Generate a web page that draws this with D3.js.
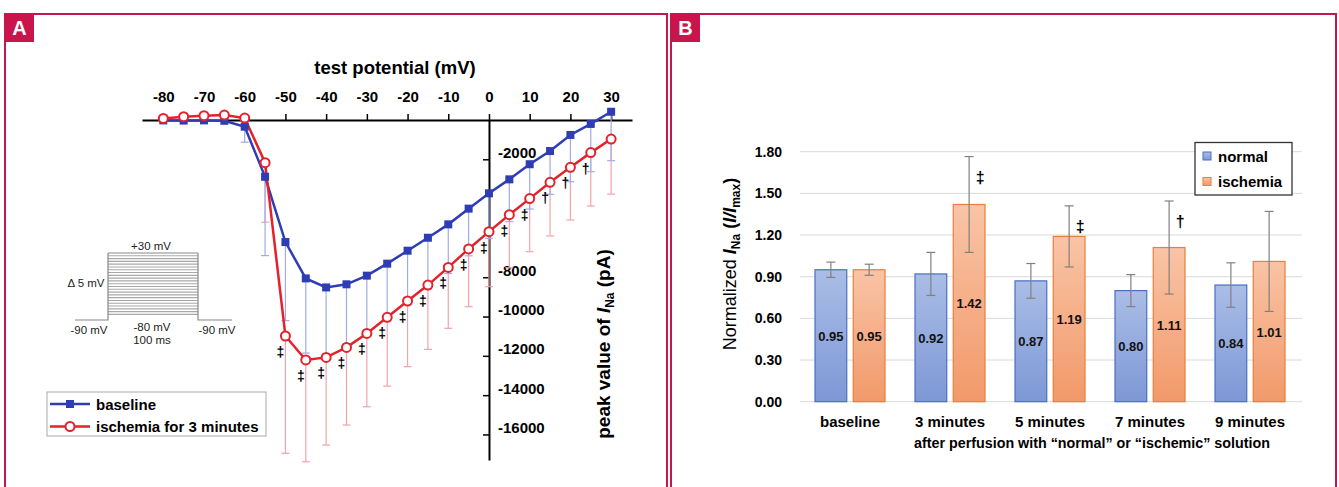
<!DOCTYPE html>
<html><head><meta charset="utf-8">
<script src="https://cdn.jsdelivr.net/npm/d3@7"></script>
<style>body{margin:0;background:#fff}svg{display:block;font-family:"Liberation Sans",Arial,sans-serif}</style>
</head><body><svg id="c" width="1339" height="487"></svg>
<script>
// ---------- Panel A data ----------
const potentials = [-80,-75,-70,-65,-60,-55,-50,-45,-40,-35,-30,-25,-20,-15,-10,-5,0,5,10,15,20,25,30];
const baselineI  = [-20,-30,-20,-40,-340,-2890,-6210,-8060,-8520,-8360,-7920,-7310,-6650,-5990,-5310,-4510,-3730,-3020,-2250,-1580,-760,-200,420];
const ischemiaI  = [80,170,220,250,100,-2170,-10990,-12210,-12080,-11570,-10860,-10040,-9210,-8400,-7500,-6560,-5680,-4820,-4000,-3170,-2410,-1660,-970];
const baselineSD = [0,0,0,0,790,4010,4000,3800,3500,3300,3100,2900,2700,2600,2500,2400,2300,2150,2280,2200,2380,2430,2490];
const ischemiaSD = [0,0,0,0,100,3030,5970,5180,4460,3950,3730,3500,3340,3270,3100,2940,2800,2700,2700,2730,2680,2720,2800];
const sigA       = ["","","","","","","‡","‡","‡","‡","‡","‡","‡","‡","‡","‡","‡","‡","‡","†","†","†",""];
const xTicksA = [-80,-70,-60,-50,-40,-30,-20,-10,0,10,20,30];
const yTicksA = [-2000,-8000,-10000,-12000,-14000,-16000];
const protocolLevels = [30,25,20,15,10,5,0,-5,-10,-15,-20,-25,-30,-35,-40,-45,-50,-55,-60,-65,-70,-75,-80];

// ---------- Panel B data ----------
const groups = ["baseline","3 minutes","5 minutes","7 minutes","9 minutes"];
const normalVals = [0.95,0.92,0.87,0.80,0.84];
const ischemiaVals = [0.95,1.42,1.19,1.11,1.01];
const normalErr = [0.055,0.155,0.125,0.115,0.16];
const ischemiaErr = [0.04,0.345,0.22,0.335,0.36];
const sigB = ["","‡","‡","†",""];
const yTicksB = [0,0.3,0.6,0.9,1.2,1.5,1.8];

const svg = d3.select("#c");
const crimson = "#c8164c";
const blue = "#2f3db5", red = "#e3222b";

// frames and panel labels
[[5,667,"A"],[671,1336,"B"]].forEach(([l,r,t])=>{
  svg.append("path").attr("d",`M${l},487V14H${r}V487`).attr("fill","none")
    .attr("stroke",crimson).attr("stroke-width",2);
  svg.append("rect").attr("x",l).attr("y",13).attr("width",29).attr("height",29).attr("fill",crimson);
  svg.append("text").attr("x",l+14.5).attr("y",35).attr("text-anchor","middle")
    .attr("fill","#fff").attr("font-weight","bold").attr("font-size",20).text(t);
});

// ---------- Panel A ----------
const gA = svg.append("g");
const xA = d3.scaleLinear().domain([-85.23,35.13]).range([142,632]);
const yA = d3.scaleLinear().domain([0,-17300]).range([120,460]);

// x axis (top)
const xAx = gA.append("g").attr("transform","translate(0,120)")
  .call(d3.axisTop(xA).tickValues(xTicksA).tickSize(6).tickSizeOuter(0).tickPadding(12).tickFormat(d=>String(d)));
xAx.select(".domain").attr("stroke","#000").attr("stroke-width",2);
xAx.selectAll(".tick line").attr("stroke","#000").attr("stroke-width",1.5);
xAx.selectAll(".tick text").attr("font-size",15).attr("font-weight","bold").attr("fill","#000")
  .attr("font-family","'Liberation Sans',Arial,sans-serif");

// y axis
const yAx = gA.append("g").attr("transform",`translate(${xA(0)},0)`)
  .call(d3.axisLeft(yA).tickValues(yTicksA).tickSize(6).tickSizeOuter(0).tickFormat(""));
yAx.select(".domain").attr("stroke","#000").attr("stroke-width",2);
yAx.selectAll(".tick line").attr("stroke","#000").attr("stroke-width",1.5);
gA.selectAll(".ylab").data(yTicksA).join("text")
  .attr("x",xA(0)+9).attr("y",d=>yA(d)-1.5).attr("font-size",15).attr("font-weight","bold").text(d=>String(d));

// titles
gA.append("text").attr("x",395).attr("y",74).attr("text-anchor","middle")
  .attr("font-size",18.5).attr("font-weight","bold").text("test potential (mV)");
const yt = gA.append("text").attr("transform","translate(610,344) rotate(-90)").attr("text-anchor","middle")
  .attr("font-size",19).attr("font-weight","bold");
yt.append("tspan").text("peak value of ");
yt.append("tspan").attr("font-style","italic").text("I");
yt.append("tspan").attr("font-size",12).attr("dy",4).text("Na");
yt.append("tspan").attr("dy",-4).text(" (pA)");

// error bars (downward)
function errBars(vals, sds, color){
  const d = potentials.map((p,i)=>({p,v:vals[i],s:sds[i]})).filter(o=>o.s>0);
  gA.append("g").selectAll("line.e").data(d).join("line")
    .attr("x1",o=>xA(o.p)).attr("x2",o=>xA(o.p)).attr("y1",o=>yA(o.v)).attr("y2",o=>yA(o.v-o.s))
    .attr("stroke",color).attr("stroke-width",1.2);
  gA.append("g").selectAll("line.c").data(d).join("line")
    .attr("x1",o=>xA(o.p)-4).attr("x2",o=>xA(o.p)+4).attr("y1",o=>yA(o.v-o.s)).attr("y2",o=>yA(o.v-o.s))
    .attr("stroke",color).attr("stroke-width",1.2);
}
errBars(ischemiaI, ischemiaSD, "#f2a3ab");
errBars(baselineI, baselineSD, "#a3aae6");

const line = d3.line().x(d=>xA(d[0])).y(d=>yA(d[1]));
gA.append("path").datum(potentials.map((p,i)=>[p,baselineI[i]])).attr("d",line)
  .attr("fill","none").attr("stroke",blue).attr("stroke-width",2.5);
gA.append("path").datum(potentials.map((p,i)=>[p,ischemiaI[i]])).attr("d",line)
  .attr("fill","none").attr("stroke",red).attr("stroke-width",2.5);
gA.append("g").selectAll("rect").data(potentials).join("rect")
  .attr("x",(p)=>xA(p)-4).attr("y",(p,i)=>yA(baselineI[i])-4).attr("width",8).attr("height",8).attr("fill",blue);
gA.append("g").selectAll("circle").data(potentials).join("circle")
  .attr("cx",p=>xA(p)).attr("cy",(p,i)=>yA(ischemiaI[i])).attr("r",4.5)
  .attr("fill","#fff").attr("stroke",red).attr("stroke-width",2);
gA.append("g").selectAll("text").data(potentials).join("text")
  .attr("x",p=>xA(p)-5).attr("y",(p,i)=>yA(ischemiaI[i])+21).attr("text-anchor","middle")
  .attr("font-size",14).attr("font-weight","bold").text((p,i)=>sigA[i]);

// inset protocol
const yP = d3.scaleLinear().domain([-90,30]).range([320,253]);
const ins = gA.append("g");
ins.selectAll("line.lv").data(protocolLevels).join("line")
  .attr("x1",108).attr("x2",198).attr("y1",d=>yP(d)).attr("y2",d=>yP(d))
  .attr("stroke",(d,i)=>i===0?"#888":"#a8a8a8").attr("stroke-width",1.1);
ins.append("path").attr("d",`M75,${yP(-90)}H108V${yP(30)}M198,${yP(30)}V${yP(-90)}H232`)
  .attr("fill","none").attr("stroke","#888").attr("stroke-width",1.2);
const insT = [["+30 mV",151,250],["Δ 5 mV",86,287],["-90 mV",89,334],["-80 mV",152,331],["100 ms",152,344],["-90 mV",217,334]];
ins.selectAll("text").data(insT).join("text").attr("x",d=>d[1]).attr("y",d=>d[2])
  .attr("text-anchor","middle").attr("font-size",11.5).attr("fill","#222").text(d=>d[0]);

// legend A
const lg = gA.append("g");
lg.append("rect").attr("x",47).attr("y",392).attr("width",219).attr("height",44)
  .attr("fill","#fff").attr("stroke","#aaa").attr("stroke-width",1);
[[404,"baseline",blue,"sq"],[426.5,"ischemia for 3 minutes",red,"ci"]].forEach(([y,t,c,m])=>{
  lg.append("line").attr("x1",50).attr("x2",90).attr("y1",y).attr("y2",y).attr("stroke",c).attr("stroke-width",2.5);
  if(m==="sq") lg.append("rect").attr("x",66).attr("y",y-4).attr("width",8).attr("height",8).attr("fill",c);
  else lg.append("circle").attr("cx",70).attr("cy",y).attr("r",4.5).attr("fill","#fff").attr("stroke",c).attr("stroke-width",2);
  lg.append("text").attr("x",96).attr("y",y+5.5).attr("font-size",15).attr("font-weight","bold").text(t);
});

// ---------- Panel B ----------
const gB = svg.append("g");
const defs = svg.append("defs");
function grad(id,c1,c2){
  const g = defs.append("linearGradient").attr("id",id).attr("x1",0).attr("y1",0).attr("x2",0).attr("y2",1);
  g.append("stop").attr("offset","0%").attr("stop-color",c1);
  g.append("stop").attr("offset","100%").attr("stop-color",c2);
}
grad("gBlue","#aabde6","#7d98d6");
grad("gOrange","#f9c4a6","#f2996a");

const x0 = d3.scaleBand().domain(groups).range([800,1300]);
const x1 = d3.scaleBand().domain(["normal","ischemia"]).range([15,85]).paddingInner(0.17);
const yB = d3.scaleLinear().domain([0,1.8]).range([401.7,151.7]);

gB.selectAll("line.grid").data(yTicksB).join("line")
  .attr("x1",800).attr("x2",1302).attr("y1",d=>yB(d)).attr("y2",d=>yB(d))
  .attr("stroke","#d9d9d9").attr("stroke-width",1);
gB.selectAll("text.yt").data(yTicksB).join("text")
  .attr("x",782).attr("y",d=>yB(d)+5).attr("text-anchor","end")
  .attr("font-size",14).attr("font-weight","bold").text(d=>d.toFixed(2));

const series = [
  {key:"normal",vals:normalVals,err:normalErr,fill:"url(#gBlue)",stroke:"#4a6fc0"},
  {key:"ischemia",vals:ischemiaVals,err:ischemiaErr,fill:"url(#gOrange)",stroke:"#ec7d3a"}
];
series.forEach(s=>{
  const d = groups.map((g,i)=>({g,v:s.vals[i],e:s.err[i],i}));
  const xc = o=>x0(o.g)+x1(s.key);
  gB.append("g").selectAll("rect").data(d).join("rect")
    .attr("x",xc).attr("y",o=>yB(o.v)).attr("width",x1.bandwidth()).attr("height",o=>yB(0)-yB(o.v))
    .attr("fill",s.fill).attr("stroke",s.stroke).attr("stroke-width",1.2);
  const eg = gB.append("g").attr("stroke","#808080").attr("stroke-width",1.2);
  d.forEach(o=>{
    const cx = xc(o)+x1.bandwidth()/2;
    eg.append("line").attr("x1",cx).attr("x2",cx).attr("y1",yB(o.v+o.e)).attr("y2",yB(o.v-o.e));
    eg.append("line").attr("x1",cx-4.5).attr("x2",cx+4.5).attr("y1",yB(o.v+o.e)).attr("y2",yB(o.v+o.e));
    eg.append("line").attr("x1",cx-4.5).attr("x2",cx+4.5).attr("y1",yB(o.v-o.e)).attr("y2",yB(o.v-o.e));
  });
  gB.append("g").selectAll("text").data(d).join("text")
    .attr("x",o=>xc(o)+x1.bandwidth()/2).attr("y",o=>yB(o.v/2)+5).attr("text-anchor","middle")
    .attr("font-size",13).attr("font-weight","bold").attr("fill","#111").text(o=>o.v.toFixed(2));
});
// significance marks
gB.selectAll("text.sig").data(groups).join("text")
  .attr("x",(g)=>x0(g)+x1("ischemia")+x1.bandwidth()/2+11)
  .attr("y",(g,i)=>yB(ischemiaVals[i]+ischemiaErr[i])+26).attr("text-anchor","middle")
  .attr("font-size",16).attr("font-weight","bold").text((g,i)=>sigB[i]);

// category labels
gB.selectAll("text.cat").data(groups).join("text")
  .attr("x",g=>x0(g)+x0.bandwidth()/2).attr("y",426.5).attr("text-anchor","middle")
  .attr("font-size",15).attr("font-weight","bold").text(g=>g);
gB.append("text").attr("x",1092).attr("y",448).attr("text-anchor","middle")
  .attr("font-size",14.3).attr("font-weight","bold").text("after perfusion with “normal” or “ischemic” solution");

// y title B
const ytB = gB.append("text").attr("transform","translate(736,264) rotate(-90)").attr("text-anchor","middle")
  .attr("font-size",18);
ytB.append("tspan").text("Normalized ");
ytB.append("tspan").attr("font-style","italic").attr("font-weight","bold").text("I");
ytB.append("tspan").attr("font-size",12).attr("font-weight","bold").attr("dy",4).text("Na");
ytB.append("tspan").attr("dy",-4).attr("font-weight","bold").text(" (");
ytB.append("tspan").attr("font-style","italic").attr("font-weight","bold").text("I/I");
ytB.append("tspan").attr("font-size",12).attr("font-weight","bold").attr("dy",4).text("max");
ytB.append("tspan").attr("dy",-4).attr("font-weight","bold").text(")");

// legend B
const lgB = gB.append("g");
lgB.append("rect").attr("x",1195).attr("y",142.5).attr("width",97).attr("height",52.5)
  .attr("fill","#fff").attr("stroke","#333").attr("stroke-width",1.3);
[[156,"normal",series[0]],[181.5,"ischemia",series[1]]].forEach(([y,t,s])=>{
  lgB.append("rect").attr("x",1203).attr("y",y-4).attr("width",8).attr("height",8)
    .attr("fill",s.fill).attr("stroke",s.stroke).attr("stroke-width",1);
  lgB.append("text").attr("x",1218).attr("y",y+5.5).attr("font-size",15).attr("font-weight","bold").text(t);
});
</script></body></html>
